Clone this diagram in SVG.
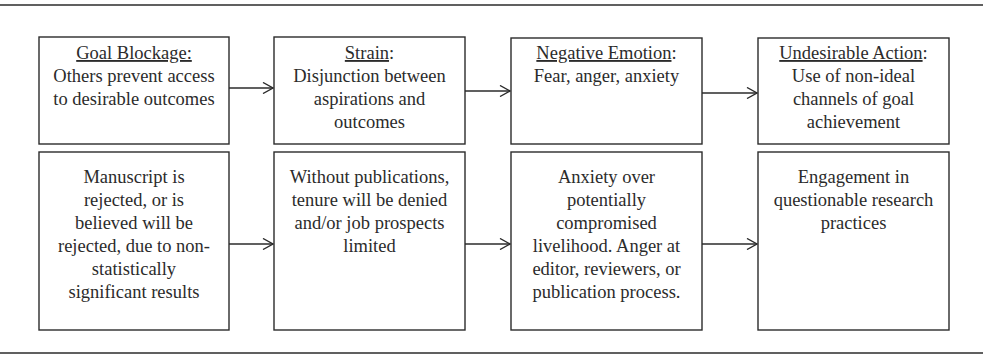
<svg xmlns="http://www.w3.org/2000/svg" width="983" height="362" viewBox="0 0 983 362">
<defs>
<style>
.rule{stroke:#2b2b2b;stroke-width:1.6}
.box{fill:#fff;stroke:#2b2b2b;stroke-width:1.4}
.t{font-family:"Liberation Serif","Times New Roman",serif;font-size:18.5px;fill:#2b2b2b;text-anchor:middle}
.u{text-decoration:underline}
.c{fill:none;stroke:#2b2b2b;stroke-width:1.4}
</style>
<marker id="ah" viewBox="0 0 12 12" refX="11" refY="6" markerWidth="12" markerHeight="12" markerUnits="userSpaceOnUse" orient="auto">
<path d="M1,0.5 L11,6 L1,11.5" fill="none" stroke="#2b2b2b" stroke-width="1.4"/>
</marker>
</defs>
<rect width="983" height="362" fill="#fff"/>
<line class="rule" x1="0" y1="5" x2="983" y2="5"/>
<line class="rule" x1="0" y1="353" x2="983" y2="353"/>

<g id="goal-blockage">
<rect class="box" x="39" y="37" width="190" height="107"/>
<text class="t" x="134" y="59"><tspan class="u">Goal Blockage:</tspan></text>
<text class="t" x="134" y="82">Others prevent access</text>
<text class="t" x="134" y="105">to desirable outcomes</text>
</g>
<g id="strain">
<rect class="box" x="274" y="37" width="191" height="107"/>
<text class="t" x="369.5" y="59"><tspan class="u">Strain</tspan>:</text>
<text class="t" x="369.5" y="82">Disjunction between</text>
<text class="t" x="369.5" y="105">aspirations and</text>
<text class="t" x="369.5" y="128">outcomes</text>
</g>
<g id="negative-emotion">
<rect class="box" x="511" y="38" width="191" height="106"/>
<text class="t" x="606.5" y="59"><tspan class="u">Negative Emotion</tspan>:</text>
<text class="t" x="606.5" y="82">Fear, anger, anxiety</text>
</g>
<g id="undesirable-action">
<rect class="box" x="758" y="38" width="191" height="106"/>
<text class="t" x="853.5" y="59"><tspan class="u">Undesirable Action</tspan>:</text>
<text class="t" x="853.5" y="82">Use of non-ideal</text>
<text class="t" x="853.5" y="105">channels of goal</text>
<text class="t" x="853.5" y="128">achievement</text>
</g>

<g id="manuscript">
<rect class="box" x="39" y="152" width="190" height="178"/>
<text class="t" x="134" y="183">Manuscript is</text>
<text class="t" x="134" y="206">rejected, or is</text>
<text class="t" x="134" y="229">believed will be</text>
<text class="t" x="134" y="252">rejected, due to non-</text>
<text class="t" x="134" y="275">statistically</text>
<text class="t" x="134" y="298">significant results</text>
</g>
<g id="publications">
<rect class="box" x="274" y="152" width="191" height="178"/>
<text class="t" x="369.5" y="183">Without publications,</text>
<text class="t" x="369.5" y="206">tenure will be denied</text>
<text class="t" x="369.5" y="229">and/or job prospects</text>
<text class="t" x="369.5" y="252">limited</text>
</g>
<g id="anxiety">
<rect class="box" x="511" y="152" width="191" height="178"/>
<text class="t" x="606.5" y="183">Anxiety over</text>
<text class="t" x="606.5" y="206">potentially</text>
<text class="t" x="606.5" y="229">compromised</text>
<text class="t" x="606.5" y="252">livelihood. Anger at</text>
<text class="t" x="606.5" y="275">editor, reviewers, or</text>
<text class="t" x="606.5" y="298">publication process.</text>
</g>
<g id="engagement">
<rect class="box" x="758" y="152" width="191" height="178"/>
<text class="t" x="853.5" y="183">Engagement in</text>
<text class="t" x="853.5" y="206">questionable research</text>
<text class="t" x="853.5" y="229">practices</text>
</g>

<g id="connectors">
<line class="c" x1="229" y1="88" x2="273" y2="88" marker-end="url(#ah)"/>
<line class="c" x1="465" y1="91" x2="510" y2="91" marker-end="url(#ah)"/>
<line class="c" x1="702" y1="93" x2="757" y2="93" marker-end="url(#ah)"/>
<line class="c" x1="229" y1="244" x2="273" y2="244" marker-end="url(#ah)"/>
<line class="c" x1="465" y1="244" x2="510" y2="244" marker-end="url(#ah)"/>
<line class="c" x1="702" y1="244" x2="757" y2="244" marker-end="url(#ah)"/>
</g>
</svg>
